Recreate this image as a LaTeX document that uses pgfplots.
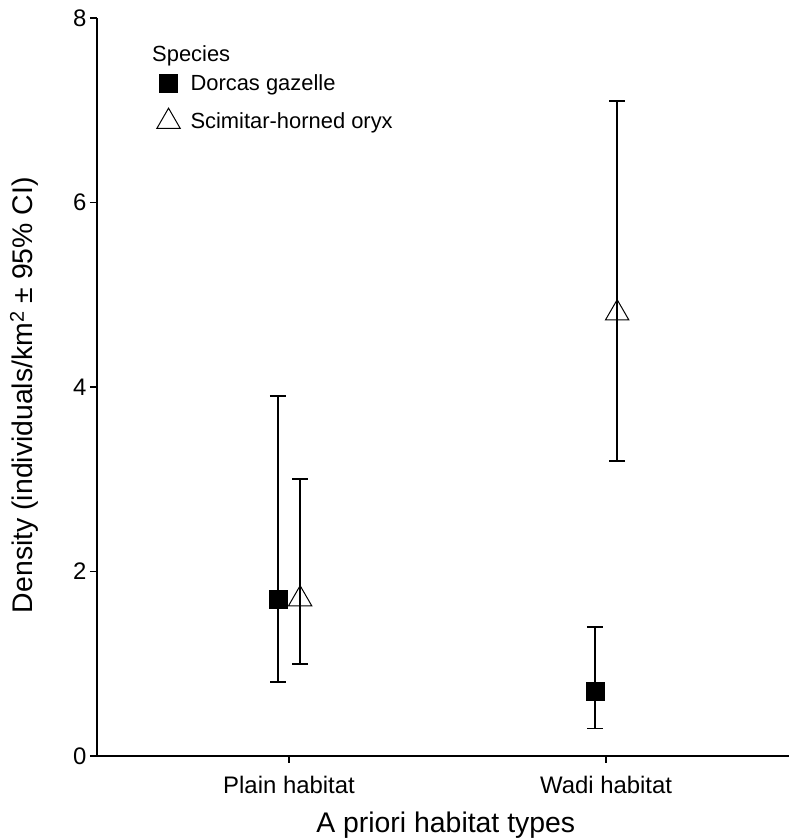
\documentclass[border=0pt]{standalone}
\usepackage{fontspec}
\setmainfont{Liberation Sans}
\usepackage{pgfplots}
\pgfplotsset{compat=1.18}

\begin{document}
\begin{tikzpicture}
\begin{axis}[
  scale only axis,
  width=692bp, height=738bp,
  xmin=0.3943, xmax=2.577,
  ymin=0, ymax=8,
  axis lines=left,
  axis line style={-, line width=1.4pt},
  xtick={1,2},
  xticklabels={Plain habitat, Wadi habitat},
  ytick={0,2,4,6,8},
  tick align=outside,
  major tick length=7bp,
  tick style={line width=1.4pt, black},
  ticklabel style={font=\fontsize{24}{28}\selectfont},
  xticklabel style={yshift=-10bp},
  /pgf/number format/assume math mode=true,
  xlabel={A priori habitat types},
  ylabel={Density (individuals/km\textsuperscript{2} ± 95\% CI)},
  every axis x label/.style={at={(axis description cs:0.504,-0.103)}, anchor=base,
    font=\fontsize{28.5}{32}\selectfont},
  every axis y label/.style={at={(axis description cs:-0.105,0.489)}, anchor=center, rotate=90,
    font=\fontsize{28.5}{32}\selectfont},
  legend style={draw=none, fill=none, at={(0.080,0.9287)}, anchor=north west,
    font=\fontsize{22}{26}\selectfont, row sep=14bp, column sep=7bp},
  legend cell align=left,
  legend image code/.code={%
    \path[draw=none, fill=none] (-13bp,-10bp) rectangle (13bp,10bp);
    \draw[mark repeat=2,mark phase=2] plot coordinates {(-1bp,0bp) (0bp,0bp) (1bp,0bp)};},
  clip=false,
]

% Dorcas gazelle
\addplot+[only marks, black, mark=square*, mark size=9bp, mark options={solid, fill=black},
  error bars/.cd, y dir=both, y explicit,
  error bar style={line width=1.6pt, black},
  error mark options={rotate=90, mark size=8bp, line width=1.6pt, black}]
  coordinates {
    (0.965,1.7) += (0,2.2) -= (0,0.9)
    (1.965,0.7) += (0,0.7) -= (0,0.4)
  };
\addlegendentry{Dorcas gazelle}

% Scimitar-horned oryx
\addplot+[only marks, black, mark=triangle, mark size=13.5bp, mark options={solid, fill=none, line width=1pt},
  error bars/.cd, y dir=both, y explicit,
  error bar style={line width=1.6pt, black},
  error mark options={rotate=90, mark size=8bp, line width=1.6pt, black}]
  coordinates {
    (1.035,1.7) += (0,1.3) -= (0,0.7)
    (2.035,4.8) += (0,2.3) -= (0,1.6)
  };
\addlegendentry{Scimitar-horned oryx}

\node[anchor=base west, inner sep=0pt, font=\fontsize{22}{26}\selectfont]
  at (rel axis cs:0.0795,0.941) {Species};

\coordinate (O) at (rel axis cs:0,0);
\coordinate (T) at (rel axis cs:1,1);
\end{axis}
\pgfresetboundingbox
\path[use as bounding box] ([shift={(-97bp,-82bp)}]O) rectangle ([shift={(0bp,18bp)}]T);
\end{tikzpicture}
\end{document}
